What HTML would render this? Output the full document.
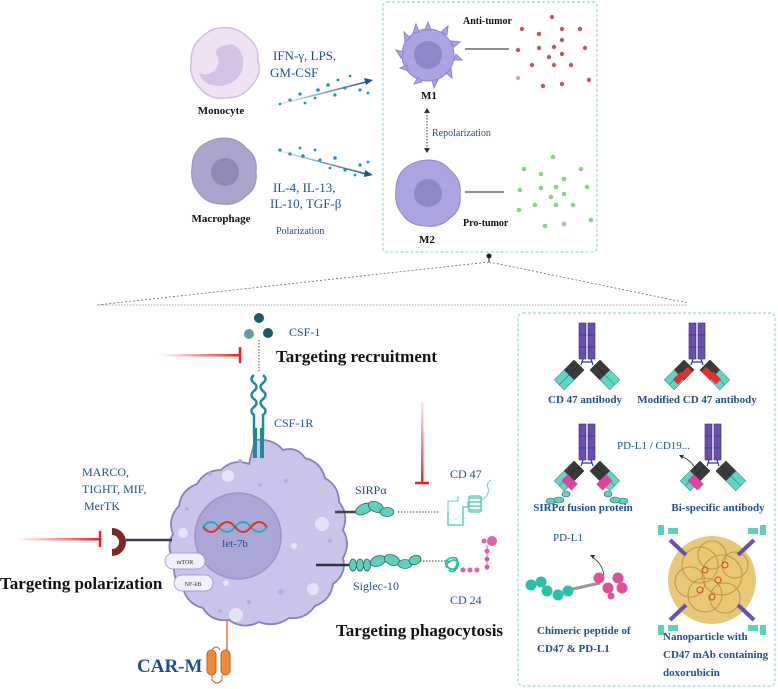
<!DOCTYPE html>
<html><head><meta charset="utf-8"><style>
html,body{margin:0;padding:0;background:#fff}
svg{display:block}
text{font-family:"Liberation Serif",serif}
.b{fill:#1f4f8a}
.k{fill:#111;font-weight:bold}
.bb{fill:#1f4f8a;font-weight:bold}
</style></head><body>
<svg width="778" height="689" viewBox="0 0 778 689" xmlns="http://www.w3.org/2000/svg">
<defs>
<g id="ab">
 <rect x="-8" y="0" width="7" height="12" fill="#6b4fb0" stroke="#3c2a70" stroke-width="0.6"/>
 <rect x="-8" y="12" width="7" height="12" fill="#6b4fb0" stroke="#3c2a70" stroke-width="0.6"/>
 <rect x="-8" y="24" width="7" height="12" fill="#6b4fb0" stroke="#3c2a70" stroke-width="0.6"/>
 <rect x="1" y="0" width="7" height="12" fill="#6b4fb0" stroke="#3c2a70" stroke-width="0.6"/>
 <rect x="1" y="12" width="7" height="12" fill="#6b4fb0" stroke="#3c2a70" stroke-width="0.6"/>
 <rect x="1" y="24" width="7" height="12" fill="#6b4fb0" stroke="#3c2a70" stroke-width="0.6"/>
 <path d="M-4 36 L-6 42 M4 36 L6 42 M-5 39 H5" stroke="#2b3f8a" stroke-width="1.2" fill="none"/>
</g>
<g id="armL">
 <g transform="translate(-8,42) rotate(45)">
  <rect x="-7" y="0" width="7" height="14" fill="#3a3a3a" stroke="#222" stroke-width="0.5"/>
  <rect x="0" y="0" width="7" height="14" fill="#3a3a3a" stroke="#222" stroke-width="0.5"/>
  <rect x="-7" y="14" width="7" height="14" fill="#5fd6c4" stroke="#2a7a70" stroke-width="0.5"/>
  <rect x="0" y="14" width="7" height="14" fill="#5fd6c4" stroke="#2a7a70" stroke-width="0.5"/>
 </g>
</g>
<g id="armR">
 <g transform="translate(8,42) rotate(-45)">
  <rect x="-7" y="0" width="7" height="14" fill="#3a3a3a" stroke="#222" stroke-width="0.5"/>
  <rect x="0" y="0" width="7" height="14" fill="#3a3a3a" stroke="#222" stroke-width="0.5"/>
  <rect x="-7" y="14" width="7" height="14" fill="#5fd6c4" stroke="#2a7a70" stroke-width="0.5"/>
  <rect x="0" y="14" width="7" height="14" fill="#5fd6c4" stroke="#2a7a70" stroke-width="0.5"/>
 </g>
</g>
<linearGradient id="rg" x1="0" x2="1" y1="0" y2="0"><stop offset="0" stop-color="#ff3030" stop-opacity="0"/><stop offset="1" stop-color="#e82020"/></linearGradient>
<linearGradient id="rgv" x1="0" x2="0" y1="0" y2="1"><stop offset="0" stop-color="#ff3030" stop-opacity="0.1"/><stop offset="1" stop-color="#e82020"/></linearGradient>
<linearGradient id="ag" x1="0" x2="1"><stop offset="0" stop-color="#1a5a7a" stop-opacity="0"/><stop offset="1" stop-color="#1a5a7a"/></linearGradient>
</defs>

<!-- Top section -->
<path d="M221 28 q15 -2 25 8 q13 9 12 24 q4 15 -6 25 q-9 13 -26 13 q-17 2 -27 -11 q-10 -10 -8 -25 q0 -17 11 -25 q9 -9 19 -9z" fill="#efe3f3" stroke="#d3bde0" stroke-width="1.5"/>
<path d="M232 44 q13 6 11 23 q-4 17 -23 19 q-17 0 -21 -13 q8 4 15 -2 q8 -8 2 -17 q-2 -8 16 -10z" fill="#d6c2e6"/>
<text x="221" y="114" text-anchor="middle" font-size="11" class="k">Monocyte</text>
<path d="M224 138 q14 0 22 10 q12 8 10 24 q2 16 -10 24 q-10 10 -24 8 q-16 0 -24 -12 q-8 -10 -6 -24 q0 -16 12 -24 q10 -6 20 -6z" fill="#a9a5cc" stroke="#9590c0"/>
<circle cx="225" cy="172" r="14" fill="#8f89b2"/>
<text x="221" y="222" text-anchor="middle" font-size="11" class="k">Macrophage</text>

<text x="273" y="60" font-size="13" class="b">IFN-γ, LPS,</text>
<text x="270" y="77" font-size="13" class="b">GM-CSF</text>
<line x1="268" y1="107" x2="370" y2="81" stroke="url(#ag)" stroke-width="1.6"/>
<path d="M373 80 l-9 -2 l2 7z" fill="#1a5a7a"/>
<line x1="268" y1="148" x2="370" y2="175" stroke="url(#ag)" stroke-width="1.6"/>
<path d="M373 175 l-8 -5 l-1 7z" fill="#1a5a7a"/>
<g fill="#1a8fcf">
<circle cx="290" cy="100" r="1.6"/><circle cx="300" cy="94" r="1.6"/><circle cx="318" cy="90" r="1.8"/><circle cx="328" cy="85" r="1.8"/><circle cx="335" cy="95" r="1.6"/><circle cx="345" cy="88" r="1.6"/><circle cx="360" cy="90" r="1.6"/><circle cx="305" cy="103" r="1.4"/><circle cx="350" cy="76" r="1.4"/><circle cx="280" cy="104" r="1.4"/><circle cx="315" cy="98" r="1.4"/><circle cx="368" cy="93" r="1.4"/><circle cx="338" cy="80" r="1.4"/>
<circle cx="280" cy="150" r="1.6"/><circle cx="290" cy="154" r="1.6"/><circle cx="303" cy="156" r="1.8"/><circle cx="320" cy="160" r="1.6"/><circle cx="335" cy="158" r="1.8"/><circle cx="345" cy="170" r="1.6"/><circle cx="360" cy="165" r="1.6"/><circle cx="300" cy="148" r="1.4"/><circle cx="330" cy="168" r="1.4"/><circle cx="355" cy="175" r="1.4"/><circle cx="315" cy="150" r="1.4"/><circle cx="368" cy="162" r="1.4"/>
</g>
<text x="273" y="192" font-size="13" class="b">IL-4, IL-13,</text>
<text x="270" y="208" font-size="13" class="b">IL-10, TGF-β</text>
<text x="276" y="234" font-size="10" class="b">Polarization</text>

<rect x="383" y="2" width="214" height="250" rx="4" fill="none" stroke="#9fd8d0" stroke-width="1.2" stroke-dasharray="3,2"/>
<!-- M1 -->
<g fill="#a9a5e0" stroke="#8c86cc">
<circle cx="428" cy="55" r="26"/>
<path d="M428 22 l3 8 l-6 0z M448 26 l-1 9 l-6 -3z M460 42 l-6 5 l-3 -6z M462 60 l-8 0 l2 -6z M452 78 l-6 -5 l5 -4z M434 88 l-2 -8 l6 0z M414 84 l4 -7 l4 5z M400 68 l7 -3 l1 6z M396 50 l8 2 l-3 6z M404 32 l6 6 l-5 4z M416 24 l3 8 l-6 1z"/>
</g>
<circle cx="428" cy="55" r="14" fill="#8d88c8"/>
<text x="429" y="99" text-anchor="middle" font-size="11" class="k">M1</text>
<text x="463" y="24" font-size="10" class="k">Anti-tumor</text>
<line x1="465" y1="49" x2="509" y2="49" stroke="#222" stroke-width="1"/>
<g fill="#c25a5a">
<circle cx="552" cy="17" r="2.2"/><circle cx="522" cy="29" r="2.2"/><circle cx="539" cy="34" r="2.2"/><circle cx="562" cy="29" r="2.2"/><circle cx="580" cy="29" r="2.2"/><circle cx="518" cy="50" r="2.2"/><circle cx="539" cy="48" r="2.2"/><circle cx="554" cy="47" r="2.2"/><circle cx="562" cy="40" r="2.2"/><circle cx="585" cy="48" r="2.2"/><circle cx="549" cy="57" r="2.2"/><circle cx="562" cy="54" r="2.2"/><circle cx="532" cy="65" r="2.2"/><circle cx="554" cy="65" r="2.2"/><circle cx="571" cy="65" r="2.2"/><circle cx="518" cy="78" r="2.2" fill="#d6a0a8"/><circle cx="543" cy="86" r="2.2"/><circle cx="562" cy="84" r="2.2"/><circle cx="589" cy="80" r="2.2"/>
</g>
<line x1="427" y1="112" x2="427" y2="149" stroke="#333" stroke-dasharray="1.5,1.5"/>
<path d="M427 108 l-3 5 h6z M427 153 l-3 -5 h6z" fill="#333"/>
<text x="432" y="136" font-size="10" class="b">Repolarization</text>
<!-- M2 -->
<path d="M428 160 q14 0 22 10 q12 10 10 24 q2 16 -10 24 q-10 10 -24 8 q-16 0 -24 -12 q-8 -10 -6 -24 q0 -16 12 -24 q10 -6 20 -6z" fill="#a9a5e0" stroke="#8c86cc"/>
<circle cx="428" cy="193" r="14" fill="#8d88c8"/>
<text x="427" y="243" text-anchor="middle" font-size="11" class="k">M2</text>
<text x="463" y="226" font-size="10" class="k">Pro-tumor</text>
<line x1="465" y1="192" x2="504" y2="192" stroke="#222" stroke-width="1"/>
<g fill="#8fd08a">
<circle cx="553" cy="157" r="2.3"/><circle cx="524" cy="169" r="2.3"/><circle cx="541" cy="174" r="2.3"/><circle cx="564" cy="179" r="2.3"/><circle cx="581" cy="169" r="2.3"/><circle cx="520" cy="190" r="2.3"/><circle cx="541" cy="188" r="2.3"/><circle cx="556" cy="187" r="2.3"/><circle cx="564" cy="194" r="2.3"/><circle cx="587" cy="187" r="2.3"/><circle cx="551" cy="197" r="2.3"/><circle cx="519" cy="210" r="2.3"/><circle cx="535" cy="205" r="2.3"/><circle cx="556" cy="205" r="2.3"/><circle cx="573" cy="205" r="2.3"/><circle cx="545" cy="226" r="2.3"/><circle cx="564" cy="224" r="2.3"/><circle cx="591" cy="220" r="2.3"/>
</g>
<circle cx="489" cy="256" r="2.5" fill="#222"/>
<line x1="489" y1="256" x2="489" y2="262" stroke="#222"/>
<line x1="489" y1="262" x2="97" y2="305" stroke="#666" stroke-dasharray="2,2" stroke-width="0.8"/>
<line x1="489" y1="262" x2="688" y2="303" stroke="#666" stroke-dasharray="2,2" stroke-width="0.8"/>
<line x1="97" y1="305" x2="688" y2="305" stroke="#888" stroke-dasharray="1.5,1.5" stroke-width="0.8"/>

<!-- Bottom cell -->
<path d="M255 440 q18 -2 28 10 q14 -4 22 8 q16 4 20 20 q14 8 14 24 q10 12 4 28 q8 14 0 28 q4 16 -10 26 q-2 16 -18 22 q-10 14 -26 12 q-14 10 -30 4 q-16 8 -30 -2 q-18 2 -26 -12 q-16 -4 -20 -20 q-12 -10 -8 -26 q-10 -14 -2 -28 q-6 -16 6 -28 q2 -16 18 -22 q8 -14 24 -14 q12 -12 28 -6z" fill="#c9c5ea" stroke="#8e7cc0" stroke-width="1.8"/>
<g fill="#e4e2f5"><circle cx="228" cy="476" r="6"/><circle cx="322" cy="524" r="7"/><circle cx="183" cy="533" r="5"/><circle cx="313" cy="589" r="6"/><circle cx="236" cy="615" r="7"/><circle cx="226" cy="583" r="3"/><circle cx="294" cy="546" r="3"/></g>
<g fill="#b3aedc"><circle cx="240" cy="461" r="2"/><circle cx="210" cy="474" r="2"/><circle cx="260" cy="485" r="2"/><circle cx="286" cy="481" r="2"/><circle cx="187" cy="509" r="2"/><circle cx="281" cy="592" r="3"/><circle cx="249" cy="602" r="2"/><circle cx="220" cy="611" r="2"/><circle cx="330" cy="541" r="2"/></g>
<circle cx="238" cy="536" r="43" fill="#aba6d6" stroke="#9a93cc" stroke-width="1.5"/>
<path d="M203 527 q8 -10 16 0 t16 0 t16 0 t16 0" stroke="#2ab0b0" stroke-width="2" fill="none"/>
<path d="M203 527 q8 10 16 0 t16 0 t16 0 t16 0" stroke="#e03030" stroke-width="2" fill="none"/>
<text x="235" y="547" text-anchor="middle" font-size="11" class="b">let-7b</text>
<rect x="165" y="553" width="40" height="16" rx="8" fill="#eef0fb" stroke="#8e8ec0" stroke-width="0.7"/>
<text x="185" y="564" text-anchor="middle" font-size="6" font-family="Liberation Sans" fill="#333">mTOR</text>
<rect x="174" y="575" width="39" height="16" rx="8" fill="#eef0fb" stroke="#8e8ec0" stroke-width="0.7"/>
<text x="193" y="586" text-anchor="middle" font-size="6" font-family="Liberation Sans" fill="#333">NF-kB</text>

<!-- CSF-1 -->
<circle cx="259" cy="318" r="5" fill="#1d5a6a"/><circle cx="249" cy="334" r="5" fill="#6a9aa5"/><circle cx="268" cy="333" r="5" fill="#1d5a6a"/>
<line x1="259" y1="340" x2="259" y2="372" stroke="#555" stroke-dasharray="1.5,1.5"/>
<text x="289" y="336" font-size="12" class="b">CSF-1</text>
<text x="276" y="362" font-size="17" class="k">Targeting recruitment</text>
<rect x="158" y="354" width="82" height="2.5" fill="url(#rg)"/>
<line x1="240" y1="347" x2="240" y2="363" stroke="#e82020" stroke-width="2.5"/>
<path d="M254 375 q-5 4 0 8 q5 4 0 8 q-5 4 0 8 q5 4 0 8 q-5 4 0 8 v20 M263 375 q5 4 0 8 q-5 4 0 8 q5 4 0 8 q-5 4 0 8 q5 4 0 8 v20" stroke="#1e8a9a" stroke-width="2.5" fill="none"/>
<rect x="253" y="428" width="4" height="30" fill="#1e8a9a"/><rect x="260" y="428" width="4" height="30" fill="#1e8a9a"/>
<text x="274" y="427" font-size="12" class="b">CSF-1R</text>

<!-- Left polarization -->
<text x="82" y="476" font-size="12" class="b">MARCO,</text>
<text x="82" y="493" font-size="12" class="b">TIGHT, MIF,</text>
<text x="84" y="510" font-size="12" class="b">MerTK</text>
<path d="M112 528 a14 14 0 0 1 0 28 l0 -7 a7 7 0 0 0 0 -14z" fill="#7a2828"/>
<line x1="126" y1="540" x2="172" y2="540" stroke="#3a3858" stroke-width="2.5"/>
<rect x="17" y="538" width="83" height="2.5" fill="url(#rg)"/>
<line x1="100" y1="531" x2="100" y2="547" stroke="#e82020" stroke-width="2.5"/>
<text x="0" y="589" font-size="17" class="k">Targeting polarization</text>

<!-- SIRPa / CD47 -->
<rect x="421" y="402" width="2.5" height="81" fill="url(#rgv)"/>
<line x1="415" y1="483" x2="429" y2="483" stroke="#e82020" stroke-width="2.5"/>
<text x="355" y="494" font-size="12" class="b">SIRPα</text>
<line x1="335" y1="512" x2="357" y2="512" stroke="#444" stroke-width="2.5"/>
<g fill="#5fd0bc" stroke="#2d6a60" stroke-width="0.8"><ellipse cx="364" cy="509" rx="9" ry="5" transform="rotate(-25 364 509)"/><ellipse cx="376" cy="507" rx="8" ry="5" transform="rotate(25 376 507)"/><ellipse cx="387" cy="512" rx="7" ry="4.5"/></g>
<line x1="398" y1="512" x2="440" y2="512" stroke="#444" stroke-dasharray="1.5,1.5"/>
<text x="450" y="478" font-size="12" class="b">CD 47</text>
<path d="M448 513 v12 h15 v-18 h5 v-5 M468 498 h14 M468 502 h14 M468 506 h14 M468 510 h14" stroke="#5fd0bc" stroke-width="1.5" fill="none"/>
<rect x="469" y="496" width="12" height="16" fill="none" stroke="#5fd0bc" stroke-width="1.5" rx="2"/>
<path d="M448 513 v-12 h10 v-5 M482 500 q8 -5 6 -12 q-2 -5 3 -8" stroke="#5fd0bc" stroke-width="1" fill="none"/>
<!-- Siglec / CD24 -->
<line x1="316" y1="565" x2="350" y2="565" stroke="#333" stroke-width="2.5"/>
<g fill="#5fd0bc" stroke="#2d6a60" stroke-width="0.8"><ellipse cx="353" cy="565" rx="3.5" ry="6"/><ellipse cx="360" cy="565" rx="3.5" ry="6"/><ellipse cx="367" cy="565" rx="3.5" ry="6"/><ellipse cx="378" cy="561" rx="8" ry="5" transform="rotate(-20 378 561)"/><ellipse cx="392" cy="560" rx="8" ry="5" transform="rotate(20 392 560)"/><ellipse cx="405" cy="564" rx="7" ry="4.5"/><ellipse cx="415" cy="560" rx="6" ry="4.5" transform="rotate(-20 415 560)"/></g>
<line x1="420" y1="561" x2="453" y2="561" stroke="#444" stroke-dasharray="1.5,1.5"/>
<path d="M447 568 q-4 -8 4 -10 q8 -2 6 6 q-2 8 -8 4 q-6 -4 4 -8 q8 0 4 8 q-4 6 -8 2" stroke="#2fbfa8" stroke-width="1.8" fill="none"/>
<g fill="#e060a8"><circle cx="463" cy="570" r="2.5"/><circle cx="470" cy="570" r="2.5"/><circle cx="477" cy="570" r="2.5"/><circle cx="487" cy="567" r="2.5"/><circle cx="487" cy="559" r="2.5"/><circle cx="487" cy="551" r="2.5"/><circle cx="492" cy="541" r="5"/><circle cx="484" cy="541" r="2.5"/></g>
<line x1="487" y1="545" x2="487" y2="570" stroke="#e060a8"/>
<text x="353" y="590" font-size="12" font-family="Liberation Sans" fill="#1f4f8a">Siglec-10</text>
<text x="450" y="604" font-size="12" class="b">CD 24</text>
<text x="336" y="636" font-size="17" class="k">Targeting phagocytosis</text>
<!-- CAR-M -->
<line x1="227" y1="620" x2="227" y2="650" stroke="#e07a30" stroke-width="1.5"/>
<rect x="207" y="650" width="9" height="25" rx="4.5" fill="#f08a3a" stroke="#c06020"/>
<rect x="221" y="650" width="9" height="25" rx="4.5" fill="#f08a3a" stroke="#c06020"/>
<path d="M212 650 q4 -6 8 0 M212 675 v5 q5 6 10 0 v-5" stroke="#c06020" fill="none"/>
<text x="137" y="672" font-size="19" class="bb">CAR-M</text>

<!-- Right box -->
<rect x="518" y="313" width="257" height="373" rx="5" fill="none" stroke="#9fd8d0" stroke-width="1.2" stroke-dasharray="3,2"/>
<g transform="translate(587,323)"><use href="#ab"/><use href="#armL"/><use href="#armR"/></g>
<text x="585" y="403" text-anchor="middle" font-size="11" class="bb">CD 47 antibody</text>
<g transform="translate(697,323)"><use href="#ab"/><use href="#armL"/><use href="#armR"/>
 <rect x="-21" y="50" width="7" height="11" fill="#e03030" transform="rotate(45 -17 55)"/><rect x="-14" y="45" width="7" height="11" fill="#e03030" transform="rotate(45 -10 50)"/>
 <rect x="14" y="50" width="7" height="11" fill="#e03030" transform="rotate(-45 17 55)"/><rect x="7" y="45" width="7" height="11" fill="#e03030" transform="rotate(-45 10 50)"/>
</g>
<text x="697" y="403" text-anchor="middle" font-size="11" class="bb">Modified CD 47 antibody</text>
<g transform="translate(587,424)"><use href="#ab"/><use href="#armL"/><use href="#armR"/>
 <rect x="-24" y="54" width="14" height="9" fill="#e040a0" transform="rotate(45 -17 58)"/><rect x="10" y="54" width="14" height="9" fill="#e040a0" transform="rotate(-45 17 58)"/>
 <g fill="#5fd0bc" stroke="#2d6a60" stroke-width="0.6"><ellipse cx="-36" cy="77" rx="5" ry="3"/><ellipse cx="-28" cy="76" rx="5" ry="3"/><ellipse cx="-21" cy="70" rx="4" ry="3"/><ellipse cx="36" cy="77" rx="5" ry="3"/><ellipse cx="28" cy="76" rx="5" ry="3"/><ellipse cx="21" cy="70" rx="4" ry="3"/></g>
</g>
<text x="583" y="511" text-anchor="middle" font-size="11" class="bb">SIRPα fusion protein</text>
<g transform="translate(713,424)"><use href="#ab"/><use href="#armL"/><use href="#armR"/>
 <rect x="-24" y="54" width="14" height="9" fill="#e040a0" transform="rotate(45 -17 58)"/></g>
<path d="M697 474 q-2 -12 -16 -18" stroke="#333" fill="none" stroke-width="0.8"/>
<path d="M679 455 l5 0 l-2 4z" fill="#333"/>
<text x="617" y="449" font-size="11" class="b">PD-L1 / CD19...</text>
<text x="718" y="511" text-anchor="middle" font-size="11" class="bb">Bi-specific antibody</text>
<text x="553" y="541" font-size="11" class="b">PD-L1</text>
<path d="M604 575 q-2 -12 -12 -18" stroke="#333" fill="none" stroke-width="0.8"/>
<path d="M590 555 l5 0 l-2 4z" fill="#333"/>
<line x1="568" y1="590" x2="600" y2="583" stroke="#999" stroke-width="3"/>
<g fill="#2bc0a8"><circle cx="531" cy="585" r="5.5"/><circle cx="541" cy="582" r="5.5"/><circle cx="547" cy="591" r="5.5"/><circle cx="558" cy="595" r="5.5"/><circle cx="568" cy="591" r="5.5"/></g>
<g fill="#e05098"><circle cx="599" cy="578" r="5.5"/><circle cx="608" cy="588" r="5.5"/><circle cx="618" cy="578" r="5.5"/><circle cx="622" cy="588" r="5.5"/><circle cx="611" cy="596" r="3.5"/></g>
<text x="537" y="634" font-size="11" class="bb">Chimeric peptide of</text>
<text x="537" y="652" font-size="11" class="bb">CD47 &amp; PD-L1</text>
<circle cx="712" cy="580" r="44" fill="#e6c878"/>
<g stroke="#c0963a" fill="none" stroke-width="1"><circle cx="700" cy="565" r="18"/><circle cx="722" cy="575" r="20"/><circle cx="705" cy="595" r="17"/><circle cx="725" cy="598" r="15"/><circle cx="712" cy="555" r="14"/><circle cx="690" cy="582" r="15"/><circle cx="735" cy="565" r="13"/></g>
<g stroke="#e04020" fill="none" stroke-width="1"><circle cx="705" cy="570" r="3"/><circle cx="718" cy="580" r="3"/><circle cx="700" cy="590" r="3"/><circle cx="725" cy="565" r="3"/><circle cx="712" cy="597" r="3"/></g>
<g stroke="#6b4fb0" stroke-width="4"><line x1="686" y1="555" x2="670" y2="540"/><line x1="738" y1="555" x2="754" y2="540"/><line x1="686" y1="605" x2="670" y2="620"/><line x1="738" y1="605" x2="754" y2="620"/></g>
<g fill="#5fd0bc"><rect x="658" y="525" width="6" height="10"/><rect x="668" y="528" width="10" height="6"/><rect x="760" y="525" width="6" height="10"/><rect x="748" y="528" width="10" height="6"/><rect x="658" y="625" width="6" height="10"/><rect x="668" y="625" width="10" height="6"/><rect x="760" y="625" width="6" height="10"/><rect x="748" y="625" width="10" height="6"/></g>
<text x="663" y="640" font-size="11" class="bb">Nanoparticle with</text>
<text x="663" y="658" font-size="11" class="bb">CD47 mAb containing</text>
<text x="663" y="676" font-size="11" class="bb">doxorubicin</text>
</svg>
</body></html>
